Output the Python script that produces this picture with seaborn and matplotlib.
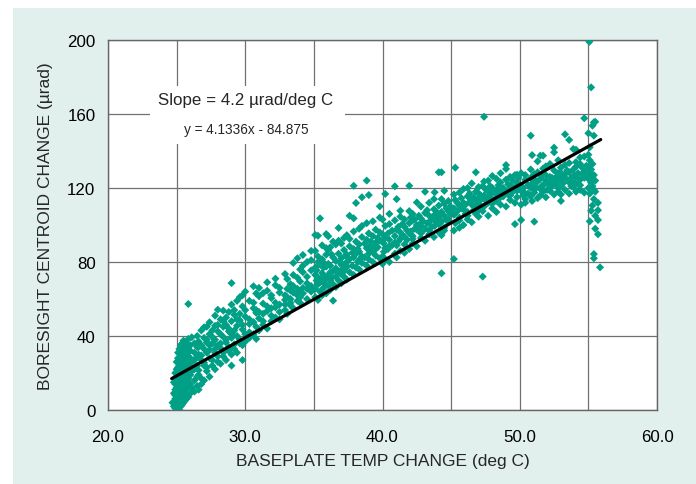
import numpy as np
import pandas as pd
import seaborn as sns
import matplotlib.pyplot as plt
from matplotlib.patches import Rectangle

# Points, grouped by temperature range
start_x = [24.7, 24.8, 24.8, 24.8, 24.9, 24.9, 24.9, 24.9, 24.9, 24.9, 24.9, 24.9, 24.9, 24.9,
           25.0, 25.0, 25.0, 25.0, 25.0, 25.0, 25.0, 25.0, 25.0, 25.0, 25.0, 25.0,
           25.1, 25.1, 25.1, 25.1, 25.1, 25.1, 25.1, 25.1, 25.1, 25.1,
           25.2, 25.2, 25.2, 25.2, 25.2, 25.2, 25.2, 25.2, 25.2, 25.2,
           25.3, 25.3, 25.3, 25.3, 25.3, 25.3, 25.3, 25.3, 25.3, 25.3,
           25.4, 25.4, 25.4, 25.4, 25.4, 25.4, 25.4, 25.4, 25.4, 25.4,
           25.5, 25.5, 25.5, 25.5, 25.5, 25.5, 25.5, 25.5, 25.5,
           25.6, 25.6, 25.6, 25.6, 25.6, 25.6, 25.6, 25.6,
           25.7, 25.7, 25.7, 25.7, 25.7, 25.7, 25.7, 25.7,
           25.85, 25.85, 25.85, 25.85, 25.85, 25.85, 25.85, 25.85, 25.85,
           26.0, 26.0, 26.0, 26.0, 26.0, 26.0, 26.0,
           26.1, 26.1, 26.1, 26.1,
           26.3, 26.3, 26.3, 26.3, 26.3, 26.3,
           26.5, 26.5, 26.5, 26.5, 26.5, 26.5]
start_y = [4, 2, 9, 15, 1, 3, 5, 8, 11, 14, 17, 20, 2, 6,
           0, 2, 4, 7, 9, 12, 15, 18, 22, 26, 1, 5,
           1, 3, 6, 10, 13, 16, 19, 23, 28, 31,
           0, 4, 8, 11, 14, 21, 24, 27, 33, 2,
           2, 5, 9, 12, 17, 20, 25, 30, 35, 7,
           3, 6, 10, 15, 18, 22, 26, 29, 36, 13,
           4, 8, 12, 16, 19, 24, 28, 32, 37.5,
           5, 9, 14, 18, 21, 25, 30, 34,
           6, 11, 15, 20, 23, 27, 31, 36,
           7, 13, 17, 22, 26, 29, 33, 38.4, 57.3,
           9, 14, 19, 24, 28, 32, 35,
           39.3, 12, 21, 26,
           10, 16, 22, 27, 31, 36,
           13, 18, 24, 29, 34, 40]

low_x = [26.6] * 6 + [26.8] * 6 + [27.0] * 6 + [27.2] * 6 + [27.4] * 6 + [27.6] * 5 + \
        [27.8] * 6 + [28.0] * 6 + [28.2] * 5 + [28.4] * 6 + [28.6] * 5 + [28.8] * 5 + \
        [29.0] * 7 + [29.2] * 5 + [29.4] * 5 + [29.6] * 5 + [29.8] * 6 + [30.0] * 5
low_y = [11, 19, 21.5, 30, 34, 37,
         14, 17, 27, 29.5, 35, 43,
         16, 24, 25.5, 33, 44.7, 39,
         21, 23, 31, 36.5, 38, 45,
         18, 28, 32.5, 35, 47.4, 41,
         24, 27, 36, 39.5, 43,
         22, 31, 33, 38, 45.5, 51,
         26, 29, 35, 42.5, 54.2, 46,
         25, 33.5, 36, 41, 49,
         29, 31, 39.5, 45, 53.7, 48,
         27, 36.5, 38, 46, 50,
         32, 34, 42.5, 44, 53,
         24, 30, 39, 41, 48, 68.6, 57,
         33, 35.5, 43, 51.5, 54,
         31, 40, 45.5, 49, 59,
         36, 38, 48.5, 52, 61,
         35, 43.5, 46, 56, 62, 27,
         37, 41, 50.5, 54, 64]

mid_x = [30.3] * 5 + [30.6] * 5 + [30.8] * 5 + [31.0] * 5 + [31.3] * 5 + [31.6] * 5 + \
        [31.9] * 5 + [32.2] * 5 + [32.5] * 5 + [32.9] * 5 + [33.06] * 4 + [33.3] * 5 + \
        [33.5] * 5 + [33.8] * 5 + [34.0] * 5 + [34.2] * 5 + [34.5] * 5 + [34.8] * 5
mid_y = [39, 46.5, 49, 59, 42,
         41, 47.5, 55, 58, 66.9,
         38.4, 45, 52.5, 54, 63,
         43, 49.5, 53, 61.5, 66,
         46, 48, 57.5, 63.2, 52,
         44, 53.5, 56, 64.5, 69,
         48, 51, 60.5, 62, 55,
         50, 55.5, 58, 67.5, 71,
         49, 57, 63.5, 66, 53,
         54, 59.5, 62, 73.5, 57,
         70.8, 52, 61, 65.5,
         56.5, 60, 68, 58, 64.5,
         79.5, 55, 63.5, 67, 73,
         82, 59, 65.5, 71.5, 62,
         58, 64, 69.5, 76, 61,
         83.8, 63, 66, 74.5, 78,
         60, 68.5, 72, 80, 65.5,
         64, 67, 75.5, 81, 86]

upper_x = [35.1] * 6 + [35.3] * 6 + [35.45] * 4 + [35.6] * 6 + [35.7] * 3 + [35.9] * 6 + \
          [36.05] * 5 + [36.2] * 5 + [36.4] * 5 + [36.6] * 5 + [36.8] * 5 + [37.0] * 5 + \
          [37.2] * 5 + [37.4] * 5 + [37.6] * 5 + [37.9] * 6 + [38.07] * 4 + [38.3] * 5 + \
          [38.5] * 5 + [38.85] * 5 + [39.0] * 5 + [39.3] * 5 + [39.5] * 4 + [39.8] * 5
upper_y = [94.6, 61, 65.5, 73, 77, 86,
           94.2, 59.5, 68, 71.5, 80, 83,
           103.6, 64, 69, 78.5,
           79.8, 62, 70.5, 74, 81.5, 89,
           77, 66, 72.5,
           95.1, 63, 71, 77.5, 84, 87.5,
           93.9, 67.5, 73, 79, 86.5,
           65, 74.5, 78, 88, 70,
           59.1, 68, 75, 82.5, 91,
           66.5, 76.5, 80.5, 89.5, 72,
           98.4, 70, 74, 84.5, 91.5,
           68.5, 78.5, 82, 90, 73.5,
           72, 76, 86.5, 93, 75,
           70.5, 80, 84, 94.5, 77.5,
           105, 74.5, 81.5, 88.5, 92.5,
           121.2, 103.6, 73, 82.5, 87, 96.5,
           111.9, 77, 84.5, 91,
           76, 85.5, 89.5, 98, 81,
           115, 79.5, 83, 93.5, 99.5,
           124, 78, 87.5, 92, 101,
           116.2, 81.5, 88, 95.5, 84.5,
           80, 89.5, 94, 102, 85.5,
           83.5, 90.5, 97.5, 87,
           110.1, 82, 91.5, 96, 104]

high_x = [40.0] * 5 + [40.2] * 5 + [40.5] * 5 + [40.9] * 5 + [41.03] * 4 + [41.3] * 5 + \
         [41.6] * 5 + [41.95] * 5 + [42.2] * 5 + [42.5] * 4 + [42.8] * 5 + [43.1] * 4 + \
         [43.4] * 5 + [43.75] * 4 + [43.8] * 3 + [44.1] * 5 + [44.3] * 6 + [44.5] * 5 + [44.8] * 4
high_y = [79, 83, 91.5, 95, 103,
          116.8, 81.5, 87.5, 93, 99.5,
          80, 88.5, 92, 100.5, 106,
          120.9, 84.5, 90.5, 94, 102.5,
          114, 82.5, 89, 97.5,
          107.7, 86, 92.5, 96, 104.5,
          85, 93.5, 99, 103, 89.5,
          121.2, 87, 95.5, 101, 107.5,
          90, 94, 102.5, 106, 92.5,
          112.2, 88.5, 97.5, 100,
          93, 99.5, 103.5, 110, 95.5,
          118, 91.5, 98, 106.5,
          95, 101.5, 105, 112, 97,
          114, 93.5, 103, 108.5,
          117.7, 99.5, 105.5,
          128.5, 96, 104.5, 110.5, 100.5,
          128.5, 73.9, 94.5, 102, 107, 114,
          118.5, 98.5, 105, 111.5, 97,
          101.5, 107.5, 113, 103]

hot_x = [45.2] * 5 + [45.3] * 4 + [45.6] * 5 + [45.9] * 4 + [46.2] * 5 + [46.5] * 4 + \
        [46.8] * 5 + [47.0] * 5 + [47.3] * 4 + [47.4] * 4 + [47.7] * 5 + [48.0] * 5 + \
        [48.3] * 5 + [48.6] * 5 + [49.0] * 5 + [49.3] * 5 + [49.65] * 4 + [49.8] * 4
hot_y = [81.6, 97, 105.5, 109, 116.5,
         131, 101, 107, 113.5,
         98.5, 104, 110.5, 117.5, 102.5,
         100, 108.5, 112, 119.5,
         103, 107, 115.5, 120, 105,
         101.5, 111, 114, 122.5,
         128.5, 106, 109.5, 118, 113,
         117.1, 104.5, 112.5, 120.5, 108,
         72.1, 107.5, 114.5, 121,
         158.5, 110, 116, 123.5,
         105, 112, 118.5, 124, 115,
         109, 114, 120, 126.5, 111.5,
         107, 116.5, 119, 125, 113,
         111, 115, 123, 128, 117.5,
         132.4, 130.3, 110, 118, 124.5,
         113.5, 119.5, 126, 116, 121.5,
         100.5, 112, 120.5, 127,
         127.2, 115, 123, 118.5]

top_x = [50.1] * 5 + [50.4] * 5 + [50.8] * 5 + [50.9] * 3 + [51.06] * 4 + [51.3] * 4 + \
        [51.5] * 4 + [51.7] * 4 + [51.9] * 4 + [52.2] * 5 + [52.5] * 5 + [52.8] * 5 + \
        [53.0] * 5 + [53.3] * 4 + [53.6] * 5 + [53.9] * 4 + [54.1] * 5 + [54.4] * 5 + [54.7] * 5
top_y = [102.7, 111, 118.5, 121, 128,
         114, 117, 124.5, 127, 112,
         148.3, 115.5, 120, 125.5, 130,
         137.8, 113, 122.5,
         101.8, 117.5, 119, 127.5,
         134.4, 114.5, 123.5, 128.5,
         137.5, 119.5, 125, 116,
         137.5, 118, 121.5, 130.5,
         131.7, 115, 124, 127,
         118.5, 120.5, 126, 133, 122.5,
         141.8, 139.3, 116.5, 124.5, 129.5,
         120, 125, 128, 135, 118,
         113, 121, 126.5, 131, 116.5,
         149, 119, 127.5, 132.5,
         146, 117, 123, 128.5, 133.5,
         141.1, 120.5, 122.5, 130,
         140.7, 118, 126, 131.5, 134,
         121.5, 124.5, 133, 136.5, 119,
         157.7, 117.5, 125.5, 129, 137]

# extra points in the dense part of the band
fill_x = [35.2, 35.2, 35.8, 35.8, 36.3, 36.3, 36.9, 36.9, 37.3, 37.3, 37.8, 37.8,
          38.2, 38.2, 38.7, 38.7, 39.15, 39.15, 39.65, 39.65, 40.1, 40.1, 40.4, 40.4,
          40.7, 40.7, 41.15, 41.15, 41.45, 41.45, 41.8, 41.8, 42.05, 42.05, 42.35, 42.35,
          42.65, 42.65, 42.95, 42.95, 43.25, 43.25, 43.6, 43.6, 43.95, 43.95, 44.2, 44.2,
          44.65, 44.65, 44.95, 44.95, 45.45, 45.45, 45.75, 45.75, 46.05, 46.05, 46.35, 46.35,
          46.65, 46.65, 46.95, 46.95, 47.15, 47.15, 47.55, 47.55, 47.85, 47.85, 48.15, 48.15,
          48.45, 48.45, 48.8, 48.8, 49.15, 49.15, 49.5, 49.5, 49.9, 49.9, 50.25, 50.25,
          50.6, 50.6, 51.15, 51.15, 51.6, 51.6, 52.0, 52.0, 52.35, 52.35, 52.65, 52.65,
          52.95, 52.95, 53.15, 53.15, 53.45, 53.45, 53.75, 53.75, 54.0, 54.0, 54.25, 54.25,
          54.55, 54.55, 54.85, 54.85]
fill_y = [70, 75.5, 68, 79, 71.5, 84, 75, 80, 79, 83.5, 78, 85,
          80, 87, 82.5, 90, 86, 91, 88, 93, 85.5, 90, 87, 95.5,
          89, 97, 91, 99, 94.5, 100.5, 92, 97, 96.5, 104, 98, 103,
          100, 105, 97, 102, 101, 108, 104, 99, 102, 107, 105.5, 101,
          103, 109, 106, 110, 107.5, 112, 109, 114.5, 106, 111, 112.5, 117,
          108, 115, 110, 114, 116, 110.5, 113, 119, 116.5, 121, 113.5, 118,
          117, 121.5, 115.5, 120, 116.5, 122, 118, 124, 120, 125.5, 116, 120,
          121.5, 117, 120.5, 124, 121, 126.5, 119, 123, 121, 125.5, 122, 126,
          124, 128.5, 122.5, 126, 124.5, 129.5, 125.5, 121, 127, 123, 128, 122,
          127.5, 131, 126, 132]

end_x = [55.0] * 5 + [55.07] + [55.1] * 5 + [55.2] * 4 + [55.3] * 5 + [55.4] * 7 + \
        [55.5] * 5 + [55.7] * 4 + [55.85]
end_y = [149.6, 125, 131, 138, 120,
         199,
         102, 128, 135, 142, 117,
         174.4, 107.7, 123, 130,
         153.7, 110.6, 121, 126, 133,
         148.3, 84.3, 82, 155.5, 114, 119, 127,
         155.8, 124, 118, 105, 98,
         102.7, 112, 108, 95,
         77.1]

# published fit
fit_slope = 4.1336
fit_intercept = -84.875

temp = start_x + low_x + mid_x + upper_x + high_x + hot_x + top_x + fill_x + end_x
shift = start_y + low_y + mid_y + upper_y + high_y + hot_y + top_y + fill_y + end_y
df = pd.DataFrame({'temp': temp, 'shift': shift})

sns.set_style('white')
plt.rcParams['font.family'] = ['Liberation Sans', 'DejaVu Sans']

fig = plt.figure(figsize=(6.96, 4.85), dpi=100, facecolor='white')
fig.patches.append(Rectangle((13 / 696, 0), 1, (485 - 9) / 485, transform=fig.transFigure,
                             facecolor='#e1f0ec', edgecolor='none', zorder=-10))
ax = fig.add_axes([108 / 696, 74 / 485, 549 / 696, 370 / 485])
ax.set_facecolor('white')

sns.scatterplot(data=df, x='temp', y='shift', marker='D', s=17, color='#00a086',
                edgecolor='none', linewidth=0, ax=ax, zorder=3)

fx = np.array([24.64, 55.9])
sns.lineplot(x=fx, y=fit_slope * fx + fit_intercept, color='black', linewidth=2.3, ax=ax, zorder=4)

ax.set_xlim(20, 60)
ax.set_ylim(0, 200)
ax.set_xticks(np.arange(20, 61, 5), minor=False)
ax.set_xticklabels(['20.0', '', '30.0', '', '40.0', '', '50.0', '', '60.0'])
ax.set_yticks([0, 40, 80, 120, 160, 200])
ax.grid(True, color='#707070', linewidth=0.9, zorder=1)
ax.set_axisbelow(True)
for sp in ax.spines.values():
    sp.set_color('#666666')
    sp.set_linewidth(1)
ax.tick_params(axis='both', length=0, labelsize=12.2, colors='black')
ax.tick_params(axis='x', pad=14)
ax.tick_params(axis='y', pad=9)

ax.add_patch(Rectangle((23.06, 143.8), 14.2, 31.3, facecolor='white', edgecolor='none', zorder=2))
ax.text(30.05, 167.7, 'Slope = 4.2 µrad/deg C', ha='center', va='center', fontsize=12.2, zorder=5)
ax.text(30.05, 151.9, 'y = 4.1336x - 84.875', ha='center', va='center', fontsize=9.8, zorder=5)

ax.set_xlabel('BASEPLATE TEMP CHANGE (deg C)', fontsize=12.5, labelpad=6)
ax.set_ylabel('BORESIGHT CENTROID CHANGE (µrad)', fontsize=12.5, labelpad=10)

fig.savefig('out.png', dpi=100, facecolor=fig.get_facecolor())
